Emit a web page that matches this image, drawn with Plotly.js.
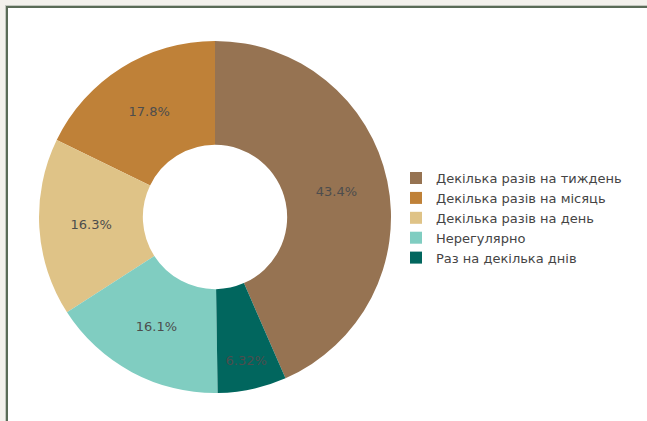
<!DOCTYPE html>
<html>
<head>
<meta charset="utf-8">
<script src="https://cdn.plot.ly/plotly-3.0.1.min.js"></script>
<style>
  html, body { margin:0; padding:0; width:647px; height:421px; overflow:hidden; background:#f3f1ec; }
  #frame { position:absolute; left:6px; top:6px; width:700px; height:500px; background:#ffffff;
           border-top:2px solid #5a6b57; border-left:2px solid #5a6b57; box-shadow:-1px -1px 0 #c3c8bf; }
  #chart { position:absolute; left:0; top:0; width:647px; height:421px; }
</style>
</head>
<body>
<div id="frame"></div>
<div id="chart"></div>
<script>
const labels = [
  "Декілька разів на тиждень",
  "Декілька разів на місяць",
  "Декілька разів на день",
  "Нерегулярно",
  "Раз на декілька днів"
];
const values = [43.44, 17.8, 16.3, 16.14, 6.32];
const colors = ["#967352", "#bf8138", "#dfc387", "#80cdc1", "#01665e"];

Plotly.newPlot("chart", [{
  type: "pie",
  labels: labels,
  values: values,
  hole: 0.41,
  textinfo: "percent",
  textposition: "inside",
  insidetextfont: { family: "DejaVu Sans, Verdana, sans-serif", size: 13, color: "#4d4d4d" },
  marker: { colors: colors, line: { width: 0 } },
  domain: { x: [0, 430/647], y: [0, 1] },
  sort: true,
  direction: "counterclockwise"
}], {
  width: 647, height: 421,
  margin: { l: 0, r: 0, t: 41, b: 28 },
  paper_bgcolor: "rgba(0,0,0,0)",
  plot_bgcolor: "rgba(0,0,0,0)",
  showlegend: true,
  legend: {
    x: 396/647, xanchor: "left",
    y: 0.497, yanchor: "middle",
    font: { family: "DejaVu Sans, Verdana, sans-serif", size: 13, color: "#444" },
    bgcolor: "rgba(0,0,0,0)"
  },
  font: { family: "DejaVu Sans, Verdana, sans-serif" }
}, { staticPlot: true, displayModeBar: false });
</script>
</body>
</html>
